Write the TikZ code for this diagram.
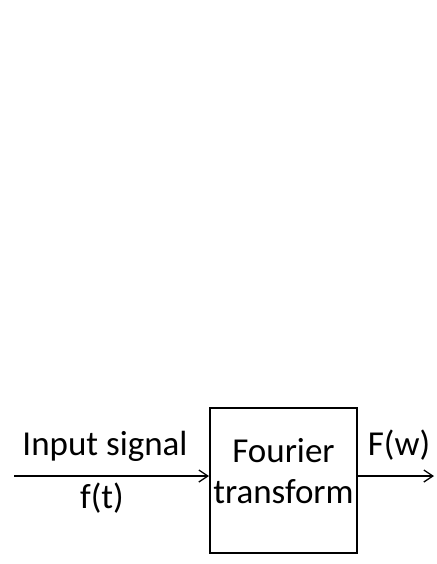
\documentclass[tikz,border=0pt]{standalone}
\usepackage{fontspec}
\setmainfont{Carlito}
\usetikzlibrary{arrows.meta,positioning}

\begin{document}
\begin{tikzpicture}[x=1pt,y=-1pt,
    lbl/.style={font=\fontsize{35}{41}\selectfont, inner sep=0pt, anchor=base},
    block/.style={draw, line width=2pt, minimum width=147pt, minimum height=145pt,
        inner sep=0pt, align=center, text depth=20pt, font=\fontsize{35}{41}\selectfont},
    sig/.style={-{Straight Barb[length=9pt,width=12pt]}, line width=1.3pt}]
    % Page frame
    \useasboundingbox (0,0) rectangle (436,564);

    % Transform block
    \node[block] (fb) at (283.5,480.5) {Fourier\\transform};

    % Free ends of the signal lines
    \coordinate (in) at (14,476);
    \coordinate (out) at (434,476);

    % Input and output signals
    \draw[sig] (in) -- (in -| fb.west);
    \draw[sig] (out -| fb.east) -- (out);

    % Labels
    \node[lbl] (inlbl) at (105,455) {Input signal};
    \node[lbl] (ftlbl) at (102,508) {f(t)};
    \node[lbl] (Fwlbl) at (399,455) {F(w)};
\end{tikzpicture}
\end{document}
